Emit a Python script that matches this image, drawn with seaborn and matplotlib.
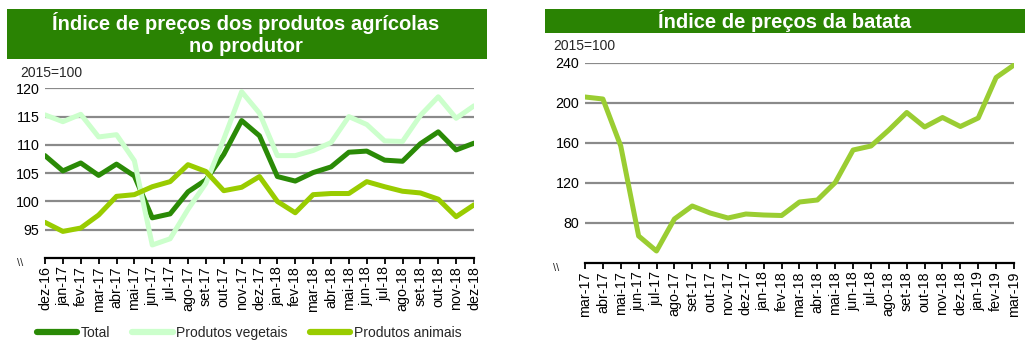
import matplotlib
matplotlib.use("Agg")
import matplotlib.pyplot as plt
import seaborn as sns
import pandas as pd
from matplotlib.patches import Rectangle
from matplotlib.lines import Line2D

sns.set_theme(style="white")
plt.rcParams['font.family'] = ['Liberation Sans', 'DejaVu Sans']

# ---- data: left chart ----
months_left = ["dez-16", "jan-17", "fev-17", "mar-17", "abr-17", "mai-17", "jun-17",
               "jul-17", "ago-17", "set-17", "out-17", "nov-17", "dez-17", "jan-18",
               "fev-18", "mar-18", "abr-18", "mai-18", "jun-18", "jul-18", "ago-18",
               "set-18", "out-18", "nov-18", "dez-18"]
total = [108.1, 105.4, 106.8, 104.6, 106.6, 104.5, 97.1, 97.8, 101.7, 103.8, 108.3,
         114.3, 111.6, 104.4, 103.6, 105.1, 106.1, 108.7, 108.9, 107.3, 107.1, 110.2,
         112.3, 109.1, 110.3]
vegetais = [115.3, 114.1, 115.4, 111.4, 111.8, 107.2, 92.3, 93.4, 98.6, 103.2, 111.0,
            119.4, 115.6, 108.1, 108.1, 109.0, 110.4, 115.0, 113.6, 110.7, 110.6, 115.2,
            118.5, 114.7, 116.9]
animais = [96.3, 94.7, 95.3, 97.6, 100.9, 101.2, 102.6, 103.5, 106.5, 105.3, 101.9,
           102.5, 104.4, 100.0, 98.0, 101.2, 101.4, 101.4, 103.5, 102.6, 101.8, 101.5,
           100.4, 97.3, 99.4]
series_names = ["Total", "Produtos vegetais", "Produtos animais"]

# ---- data: right chart ----
months_right = ["mar-17", "abr-17", "mai-17", "jun-17", "jul-17", "ago-17", "set-17",
                "out-17", "nov-17", "dez-17", "jan-18", "fev-18", "mar-18", "abr-18",
                "mai-18", "jun-18", "jul-18", "ago-18", "set-18", "out-18", "nov-18",
                "dez-18", "jan-19", "fev-19", "mar-19"]
batata = [206, 204, 157, 67, 52, 84, 97, 90, 85, 89, 88, 87.5, 101, 103, 120.5,
          153, 157, 173, 190.5, 176, 185.5, 176.5, 185, 225.5, 238]

left_ticks = [95, 100, 105, 110, 115, 120]
right_ticks = [80, 120, 160, 200, 240]

title_left = "Índice de preços dos produtos agrícolas\nno produtor"
title_right = "Índice de preços da batata"

c_total = "#2a8a06"
c_veg = "#ccffcc"
c_anim = "#99cc00"
c_bat = "#9acd32"
c_bar = "#2a8303"

W, H = 1031, 353
fig = plt.figure(figsize=(W / 100, H / 100), dpi=100)

def fx(px):
    return px / W

def fy(py):
    return 1 - py / H

axL = fig.add_axes([fx(45), fy(258), fx(474 - 45), (258 - 88.3) / H])
axR = fig.add_axes([fx(585), fy(263), fx(1014 - 585), (263 - 63) / H])

dfL = pd.DataFrame({"mes": months_left, "Total": total,
                    "Produtos vegetais": vegetais, "Produtos animais": animais})
dfL_long = dfL.melt(id_vars="mes", var_name="serie", value_name="valor")
sns.lineplot(data=dfL_long, x="mes", y="valor", hue="serie", hue_order=series_names,
             palette=[c_total, c_veg, c_anim], sort=False, linewidth=3.6,
             ax=axL, legend=False)
dfR = pd.DataFrame({"mes": months_right, "batata": batata})
sns.lineplot(data=dfR, x="mes", y="batata", sort=False, color=c_bat, linewidth=3.6, ax=axR)

TICK_FS = 10.3

def style(ax, ylim, yticks):
    ax.set_xlim(0, 24)
    ax.set_ylim(*ylim)
    ax.set_yticks(yticks)
    ax.set_xlabel("")
    ax.set_ylabel("")
    for s in ["top", "right", "left"]:
        ax.spines[s].set_visible(False)
    ax.spines["bottom"].set_color("black")
    ax.spines["bottom"].set_linewidth(1.6)
    ax.spines["bottom"].set_zorder(5)
    ax.grid(axis="y", color="#8a8a8a", linewidth=1.6, zorder=0)
    ax.set_axisbelow(True)
    ax.tick_params(axis="y", length=0, labelsize=TICK_FS, pad=4, colors="black")
    ax.tick_params(axis="x", length=4, width=1.3, direction="out", bottom=True,
                   labelsize=TICK_FS, labelrotation=90, pad=2, colors="black")
    for lab in ax.get_xticklabels():
        lab.set_verticalalignment("top")
    ax.set_facecolor("white")

style(axL, (90, 120), left_ticks)
style(axR, (40, 240), right_ticks)

# title bars
fig.patches.append(Rectangle((fx(7), fy(59)), fx(480), 50 / H, transform=fig.transFigure,
                             facecolor=c_bar, edgecolor="none", zorder=0))
fig.patches.append(Rectangle((fx(545), fy(33)), fx(480), 24 / H, transform=fig.transFigure,
                             facecolor=c_bar, edgecolor="none", zorder=0))
fig.text(fx(246), fy(33.5), title_left, color="white", fontsize=14.5, fontweight="bold",
         ha="center", va="center", linespacing=1.2)
fig.text(fx(785), fy(21), title_right, color="white", fontsize=14.5, fontweight="bold",
         ha="center", va="center")

# unit labels
fig.text(fx(20), fy(73), "2015=100", fontsize=10, ha="left", va="center")
fig.text(fx(553), fy(46), "2015=100", fontsize=10, ha="left", va="center")
# axis break marks
fig.text(fx(20), fy(263), "\\\\", fontsize=8, ha="center", va="center")
fig.text(fx(556), fy(268), "\\\\", fontsize=8, ha="center", va="center")

# legend
handles = [Line2D([], [], color=c, linewidth=4.5) for c in [c_total, c_veg, c_anim]]
fig.legend(handles, series_names, loc="center left", bbox_to_anchor=(fx(37), fy(333)),
           ncol=3, frameon=False, fontsize=10, handlelength=2.9, handletextpad=0.25,
           columnspacing=1.6, borderpad=0, borderaxespad=0)

fig.savefig("out.png", dpi=100, facecolor="white")
